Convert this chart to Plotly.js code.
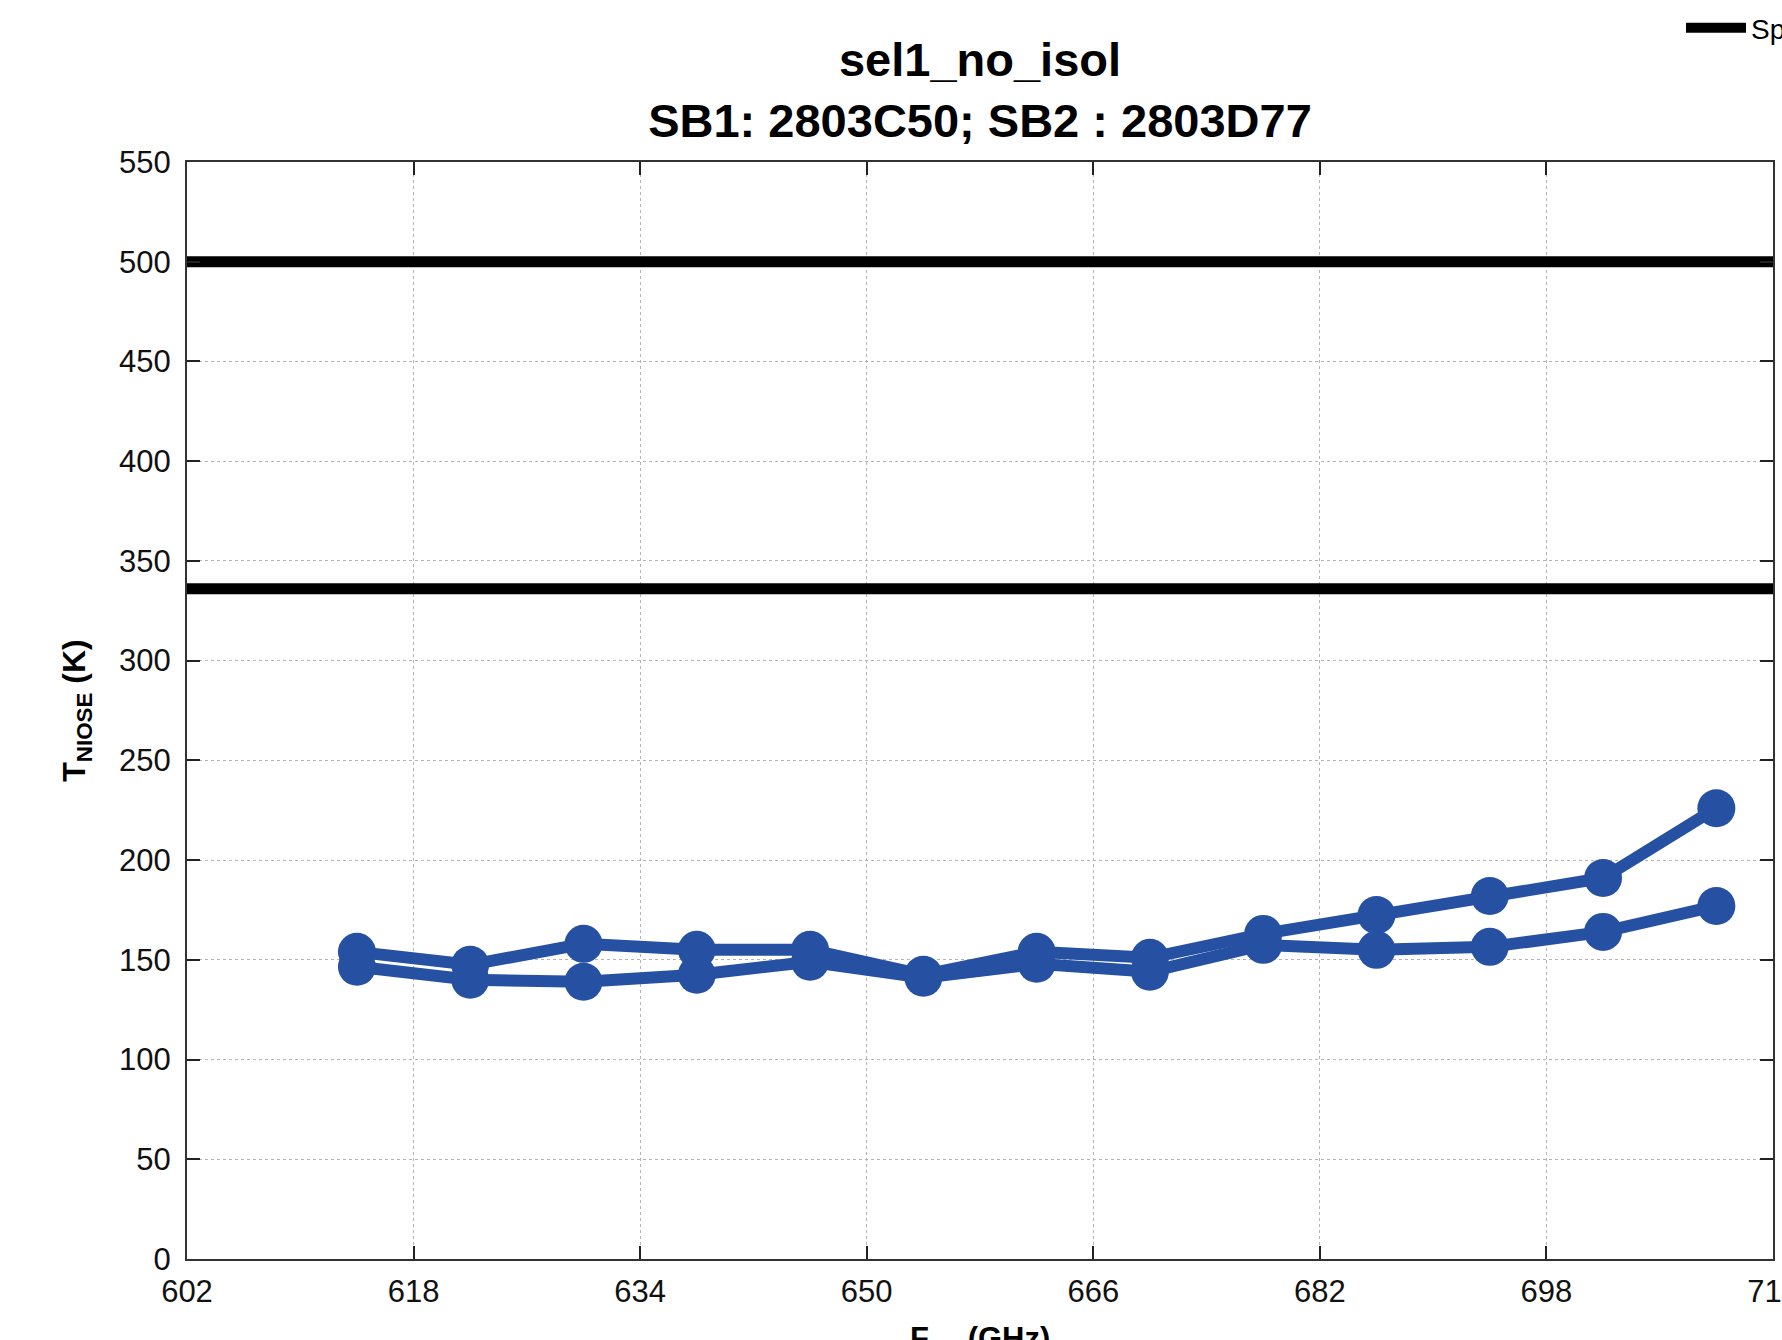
<!DOCTYPE html>
<html>
<head>
<meta charset="utf-8">
<script src="https://cdn.plot.ly/plotly-3.0.1.min.js"></script>
<style>html,body{margin:0;padding:0;background:#fff;overflow:hidden}</style>
</head>
<body>
<div id="chart" style="width:1782px;height:1340px"></div>
<script>
// Data
const freqGHz = [614, 622, 630, 638, 646, 654, 662, 670, 678, 686, 694, 702, 710];
const tnoiseSB1 = [154, 147.5, 158, 155, 155, 142.5, 154, 151, 163, 172.5, 182, 191, 226];
const tnoiseSB2 = [146.5, 140, 139, 142.5, 149, 141, 148, 144, 157.5, 155, 156.5, 164, 177];
const specLimits = [500, 336];
const xRange = [602, 714];
const yRange = [0, 550];

const blue = 'rgb(38,81,163)';
const font = 'Liberation Sans, Arial, Helvetica, sans-serif';

const traces = [
  {x: freqGHz, y: tnoiseSB1, mode: 'lines+markers', name: 'SB1', showlegend: false,
   line: {color: blue, width: 12}, marker: {color: blue, size: 38}},
  {x: freqGHz, y: tnoiseSB2, mode: 'lines+markers', name: 'SB2', showlegend: false,
   line: {color: blue, width: 12}, marker: {color: blue, size: 38}},
  {x: xRange, y: [specLimits[0], specLimits[0]], mode: 'lines', name: 'Spec 500 K', showlegend: true,
   line: {color: 'black', width: 11}},
  {x: xRange, y: [specLimits[1], specLimits[1]], mode: 'lines', name: 'Spec 336 K', showlegend: false,
   line: {color: 'black', width: 11}}
];

const axisCommon = {
  showline: true, linecolor: '#333', linewidth: 2, mirror: 'ticks',
  ticks: 'inside', ticklen: 13, tickwidth: 2, tickcolor: '#222',
  showgrid: true, gridcolor: '#b4b4b4', gridwidth: 1, griddash: 'dot',
  zeroline: false, tickfont: {family: font, size: 31, color: '#111'},
  ticklabeloverflow: 'allow'
};

const layout = {
  width: 1782, height: 1340,
  margin: {l: 187, r: 9, t: 162, b: 81, autoexpand: false},
  paper_bgcolor: '#fff', plot_bgcolor: '#fff',
  font: {family: font, color: '#000'},
  title: {
    text: '<b>sel1_no_isol</b><br><b>SB1: 2803C50; SB2 : 2803D77</b>',
    font: {family: font, size: 47, color: '#000'},
    x: 0.5, xref: 'paper', xanchor: 'center',
    y: 0.943, yref: 'container', yanchor: 'top'
  },
  xaxis: Object.assign({}, axisCommon, {
    range: xRange, tick0: 602, dtick: 16, automargin: false, ticklabelstandoff: 4
  }),
  yaxis: Object.assign({}, axisCommon, {
    range: yRange, tick0: 0, dtick: 50, automargin: false, ticklabelstandoff: 8,
    title: {text: '<b>T<sub>NIOSE</sub> (K)</b>', font: {family: font, size: 32, color: '#000'}, standoff: 24}
  }),
  annotations: [{
    text: '<b>F<sub>LO</sub> (GHz)</b>', xref: 'paper', yref: 'paper', x: 0.5, y: 0,
    xanchor: 'center', yanchor: 'top', yshift: -60, showarrow: false,
    font: {family: font, size: 31, color: '#000'}
  }],
  showlegend: true,
  legend: {
    x: 0.942, xanchor: 'left', y: 1.122, yanchor: 'middle',
    orientation: 'h', bgcolor: 'rgba(0,0,0,0)', borderwidth: 0,
    itemwidth: 60, font: {family: font, size: 28, color: '#000'}
  }
};

Plotly.newPlot('chart', traces, layout, {displayModeBar: false, staticPlot: true});
</script>
</body>
</html>
